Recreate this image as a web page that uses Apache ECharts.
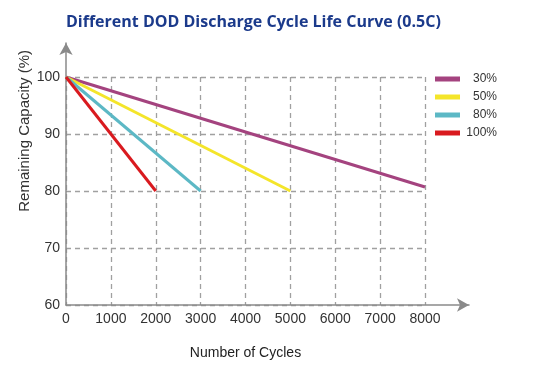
<!DOCTYPE html>
<html>
<head>
<meta charset="utf-8">
<script src="https://cdn.jsdelivr.net/npm/echarts@6/dist/echarts.min.js"></script>
<style>
html,body{margin:0;padding:0;background:#fff;}
#main{width:541px;height:366px;}
</style>
</head>
<body>
<div id="main"></div>
<script>
const seriesNames = ['30%', '50%', '80%', '100%'];
const seriesColors = ['#a4437f', '#f4e52a', '#5cb8c5', '#d91a1f'];
const cycles30 = [0, 8000];
const capacity30 = [100, 80.7];
const cycles50 = [0, 5000];
const capacity50 = [100, 80];
const cycles80 = [0, 3000];
const capacity80 = [100, 80];
const cycles100 = [0, 2000];
const capacity100 = [100, 80];
const xTicks = [0, 1000, 2000, 3000, 4000, 5000, 6000, 7000, 8000];
const yTicks = [60, 70, 80, 90, 100];

const xs = [cycles30, cycles50, cycles80, cycles100];
const ys = [capacity30, capacity50, capacity80, capacity100];

const chart = echarts.init(document.getElementById('main'));
const font = '"Liberation Sans", Arial, sans-serif';

chart.setOption({
  animation: false,
  backgroundColor: '#fff',
  title: {
    text: 'Different DOD Discharge Cycle Life Curve (0.5C)',
    left: 61, top: 9,
    textStyle: { fontFamily: '"Open Sans", sans-serif', fontWeight: 'bold', fontSize: 16, color: '#1b3a8b' }
  },
  legend: {
    orient: 'vertical', left: 430, top: 67,
    itemWidth: 25, itemHeight: 5, itemGap: 4,
    icon: 'rect',
    data: seriesNames,
    formatter: '{a|{name}}',
    textStyle: {
      fontFamily: font, fontSize: 12, color: '#333', lineHeight: 14,
      rich: { a: { width: 32, align: 'right', fontFamily: font, fontSize: 12, color: '#333' } }
    }
  },
  grid: [
    { left: 66, right: 116, top: 77, bottom: 61 },
    { left: 66, right: 72, top: 43, bottom: 61 }
  ],
  xAxis: [
    {
      type: 'value', gridIndex: 0, min: xTicks[0], max: xTicks[xTicks.length - 1], interval: 1000,
      name: 'Number of Cycles', nameLocation: 'middle', nameGap: 41,
      nameTextStyle: { fontFamily: font, fontSize: 14, color: '#222' },
      axisLine: { show: false }, axisTick: { show: false },
      axisLabel: { fontFamily: font, fontSize: 14, color: '#333', margin: 7, formatter: v => String(v) },
      splitLine: { show: true, lineStyle: { color: '#a0a0a0', type: [5, 4], width: 1.3 } }
    },
    {
      type: 'value', gridIndex: 1, min: 0, max: 1,
      axisLine: { show: true, symbol: ['none', 'arrow'], symbolSize: [10, 12], lineStyle: { color: '#8a8a8a', width: 1.5 } },
      axisTick: { show: false }, axisLabel: { show: false }, splitLine: { show: false }
    }
  ],
  yAxis: [
    {
      type: 'value', gridIndex: 0, min: yTicks[0], max: yTicks[yTicks.length - 1], interval: 10,
      axisLine: { show: false }, axisTick: { show: false },
      axisLabel: { fontFamily: font, fontSize: 14, color: '#333', margin: 6, formatter: v => String(v) },
      splitLine: { show: true, lineStyle: { color: '#a0a0a0', type: [5, 4], width: 1.3 } }
    },
    {
      type: 'value', gridIndex: 1, min: 0, max: 1,
      axisLine: { show: true, symbol: ['none', 'arrow'], symbolSize: [10, 12], lineStyle: { color: '#8a8a8a', width: 1.5 } },
      axisTick: { show: false }, axisLabel: { show: false }, splitLine: { show: false }
    }
  ],
  graphic: [
    {
      type: 'text', left: 17, top: 50, rotation: Math.PI / 2,
      style: { text: 'Remaining Capacity (%)', font: '15px ' + font, fill: '#333' }
    }
  ],
  series: seriesNames.map((n, i) => ({
    name: n, type: 'line', xAxisIndex: 0, yAxisIndex: 0,
    data: xs[i].map((x, j) => [x, ys[i][j]]),
    symbol: 'none',
    lineStyle: { color: seriesColors[i], width: 3 },
    itemStyle: { color: seriesColors[i] }
  }))
});
</script>
</body>
</html>
